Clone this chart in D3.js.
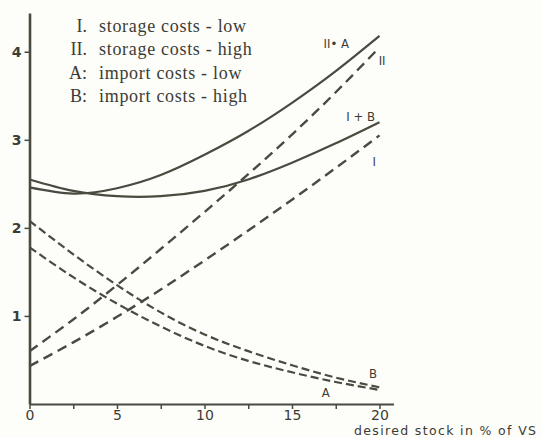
<!DOCTYPE html>
<html>
<head>
<meta charset="utf-8">
<script src="https://cdn.jsdelivr.net/npm/d3@7"></script>
<style>
  body { margin: 0; background: #fdfdfa; }
  svg { display: block; }
  .tick text { font-family: "DejaVu Sans", sans-serif; fill: #3c3c34; }
  .legend text { font-family: "Liberation Serif", serif; font-size: 18px; fill: #3c3c34; }
  .legend text.desc { letter-spacing: 0.7px; }
  .curve-label { font-family: "DejaVu Sans Condensed", "DejaVu Sans", sans-serif; font-size: 13px; fill: #3c3c34; }
</style>
</head>
<body>
<svg id="chart" width="542" height="438"></svg>
<script>
// desired stock in % of VS
var stock = [0, 2.5, 5, 7.5, 10, 12.5, 15, 17.5, 20];

// storage costs (dashed, rising)
var lineI  = [0.43, 0.70, 0.99, 1.30, 1.63, 1.97, 2.32, 2.68, 3.05];
var lineII = [0.60, 0.96, 1.35, 1.76, 2.18, 2.61, 3.06, 3.54, 4.05];

// import costs (dashed, falling)
var lineA = [1.78, 1.44, 1.14, 0.88, 0.66, 0.49, 0.36, 0.25, 0.16];
var lineB = [2.08, 1.70, 1.35, 1.04, 0.79, 0.60, 0.44, 0.30, 0.19];

// totals (solid)
var lineIIA = [2.46, 2.39, 2.45, 2.60, 2.83, 3.10, 3.42, 3.78, 4.18];
var lineIB  = [2.55, 2.42, 2.36, 2.36, 2.42, 2.55, 2.74, 2.96, 3.20];

var xTicks = [0, 2.5, 5, 7.5, 10, 12.5, 15, 17.5, 20];
var xTickLabels = [0, 5, 10, 15, 20];
var yTicks = [1, 2, 3, 4];

var legendKeys = ["I.", "II.", "A:", "B:"];
var legendTexts = ["storage costs - low", "storage costs - high", "import costs - low", "import costs - high"];

var ink = "#4a4a40";

var svg = d3.select("#chart");

var x = d3.scaleLinear().domain([0, 20.8]).range([29.5, 393.5]);
var y = d3.scaleLinear().domain([0, 4.44]).range([404, 13]);

// x axis
var xAxis = svg.append("g")
  .attr("transform", "translate(0," + y(0) + ")")
  .call(d3.axisBottom(x)
    .tickValues(xTicks)
    .tickSize(5)
    .tickSizeOuter(0)
    .tickFormat(function (d) { return xTickLabels.indexOf(d) >= 0 ? d : ""; }));
xAxis.select(".domain").attr("stroke", ink).attr("stroke-width", 2.2);
xAxis.selectAll(".tick line").attr("stroke", ink).attr("stroke-width", 1.5);
xAxis.selectAll(".tick text").attr("font-size", 14).attr("y", 15.5).attr("dy", 0);

// y axis
var yAxis = svg.append("g")
  .attr("transform", "translate(" + x(0) + ",0)")
  .call(d3.axisLeft(y).tickValues(yTicks).tickFormat(d3.format("d"))
    .tickSize(5).tickSizeOuter(0).tickPadding(3));
yAxis.select(".domain").attr("stroke", ink).attr("stroke-width", 2.6);
yAxis.selectAll(".tick line").attr("stroke", ink).attr("stroke-width", 1.5);
yAxis.selectAll(".tick text").attr("font-size", 14).attr("font-weight", "bold");

var series = [
  { values: lineI, dash: "10,6", width: 2.4 },
  { values: lineII, dash: "10,6", width: 2.4 },
  { values: lineA, dash: "8,4", width: 2.2 },
  { values: lineB, dash: "8,4", width: 2.2 },
  { values: lineIIA, dash: null, width: 2.2 },
  { values: lineIB, dash: null, width: 2.2 }
];

var line = d3.line()
  .x(function (d, i) { return x(stock[i]); })
  .y(function (d) { return y(d); })
  .curve(d3.curveNatural);

svg.append("g").selectAll("path")
  .data(series)
  .join("path")
  .attr("d", function (s) { return line(s.values); })
  .attr("fill", "none")
  .attr("stroke", ink)
  .attr("stroke-width", function (s) { return s.width; })
  .attr("stroke-dasharray", function (s) { return s.dash; });

// curve labels
var curveLabels = [
  { text: "II\u2022 A", x: 16.8, y: 4.04 },
  { text: "II", x: 19.95, y: 3.85 },
  { text: "I + B", x: 18.1, y: 3.21 },
  { text: "I", x: 19.6, y: 2.70 },
  { text: "B", x: 19.4, y: 0.30 },
  { text: "A", x: 16.7, y: 0.08 }
];
svg.append("g").selectAll("text")
  .data(curveLabels)
  .join("text")
  .attr("class", "curve-label")
  .attr("x", function (d) { return x(d.x); })
  .attr("y", function (d) { return y(d.y); })
  .text(function (d) { return d.text; });

// legend
var legend = svg.append("g").attr("class", "legend");
legend.selectAll("text.key")
  .data(legendKeys)
  .join("text")
  .attr("class", "key")
  .attr("x", 87)
  .attr("y", function (d, i) { return 32 + i * 23.3; })
  .attr("text-anchor", "end")
  .text(function (d) { return d; });
legend.selectAll("text.desc")
  .data(legendTexts)
  .join("text")
  .attr("class", "desc")
  .attr("x", 99)
  .attr("y", function (d, i) { return 32 + i * 23.3; })
  .text(function (d) { return d; });

// axis title
svg.append("text")
  .attr("x", 354)
  .attr("y", 435)
  .attr("font-family", "DejaVu Sans, sans-serif")
  .attr("font-size", 12.5)
  .attr("letter-spacing", 1.35)
  .attr("fill", "#3c3c34")
  .text("desired stock in % of VS");
</script>
</body>
</html>
